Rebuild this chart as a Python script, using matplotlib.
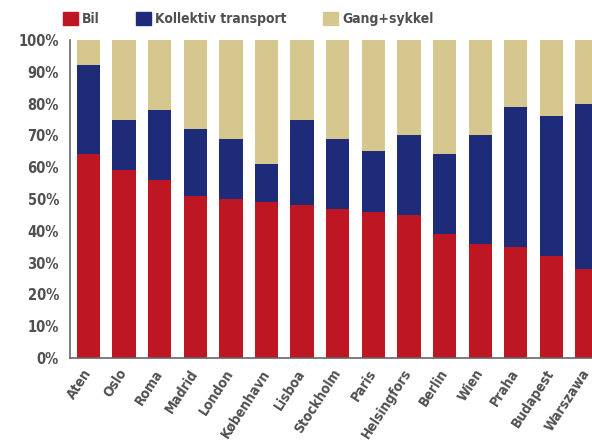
import numpy as np
import matplotlib
matplotlib.use("Agg")
import matplotlib.pyplot as plt
from matplotlib.patches import Patch

byer = ["Aten", "Oslo", "Roma", "Madrid", "London", "København", "Lisboa",
        "Stockholm", "Paris", "Helsingfors", "Berlin", "Wien", "Praha",
        "Budapest", "Warszawa"]
bil = [64, 59, 56, 51, 50, 49, 48, 47, 46, 45, 39, 36, 35, 32, 28]
kollektiv = [28, 16, 22, 21, 19, 12, 27, 22, 19, 25, 25, 34, 44, 44, 52]
gang_sykkel = [8, 25, 22, 28, 31, 39, 25, 31, 35, 30, 36, 30, 21, 24, 20]

RED = "#be1622"
BLUE = "#1d2b79"
TAN = "#d6c78e"
GREY = "#505050"

plt.rcParams["font.family"] = ["DejaVu Sans"]
plt.rcParams["font.stretch"] = "condensed"

fig = plt.figure(figsize=(5.92, 4.45), dpi=100)
ax = fig.add_axes([70 / 592, 87 / 445, 1 - 70 / 592, 318 / 445])

x = np.arange(len(byer))
b1 = np.array(bil)
b2 = b1 + np.array(kollektiv)
ax.bar(x, bil, width=0.655, color=RED)
ax.bar(x, kollektiv, bottom=b1, width=0.655, color=BLUE)
ax.bar(x, gang_sykkel, bottom=b2, width=0.655, color=TAN)

ax.set_xlim(-0.52, 14.14)
ax.set_ylim(0, 100)
ax.set_yticks(range(0, 101, 10))
ax.set_yticklabels([f"{v}%" for v in range(0, 101, 10)], fontsize=10.5,
                   color=GREY, fontweight="bold")
ax.set_xticks(x)
ax.set_xticklabels(byer, rotation=57, ha="right", va="center",
                   rotation_mode="anchor", fontsize=10, color=GREY,
                   fontweight="bold")
ax.tick_params(axis="x", length=0, pad=9)
ax.tick_params(axis="y", length=0, pad=8)

for s in ["top", "right"]:
    ax.spines[s].set_visible(False)
for s in ["left", "bottom"]:
    ax.spines[s].set_color("#666666")
    ax.spines[s].set_linewidth(1.2)

handles = [Patch(color=RED, label="Bil"),
           Patch(color=BLUE, label="Kollektiv transport"),
           Patch(color=TAN, label="Gang+sykkel")]
fig.legend(handles=handles, loc="center left", bbox_to_anchor=(50 / 592, 1 - 19 / 445),
           ncol=3, frameon=False, handlelength=1.1, handleheight=1.1,
           handletextpad=0.3, columnspacing=2.6, labelcolor=GREY,
           prop={"weight": "bold", "size": 10, "stretch": "condensed"})

fig.savefig("out.png", dpi=100)
